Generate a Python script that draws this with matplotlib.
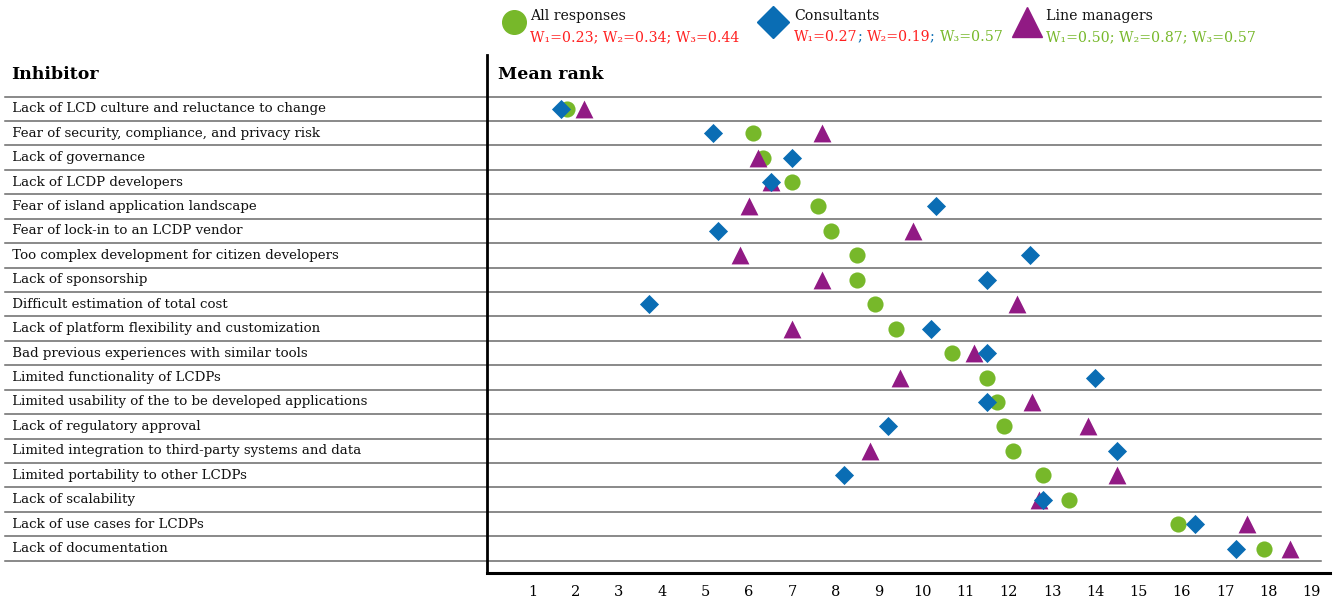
import matplotlib
matplotlib.use("Agg")
import matplotlib.pyplot as plt
import numpy as np

inhibitors = [
    "Lack of LCD culture and reluctance to change",
    "Fear of security, compliance, and privacy risk",
    "Lack of governance",
    "Lack of LCDP developers",
    "Fear of island application landscape",
    "Fear of lock-in to an LCDP vendor",
    "Too complex development for citizen developers",
    "Lack of sponsorship",
    "Difficult estimation of total cost",
    "Lack of platform flexibility and customization",
    "Bad previous experiences with similar tools",
    "Limited functionality of LCDPs",
    "Limited usability of the to be developed applications",
    "Lack of regulatory approval",
    "Limited integration to third-party systems and data",
    "Limited portability to other LCDPs",
    "Lack of scalability",
    "Lack of use cases for LCDPs",
    "Lack of documentation",
]
all_responses = [1.8, 6.1, 6.33, 7.0, 7.6, 7.9, 8.5, 8.5, 8.9, 9.4, 10.7, 11.5, 11.73, 11.9, 12.1, 12.8, 13.4, 15.9, 17.9]
consultants = [1.66, 5.17, 7.0, 6.51, 10.32, 5.29, 12.5, 11.5, 3.7, 10.2, 11.5, 14.0, 11.5, 9.2, 14.5, 8.2, 12.8, 16.3, 17.25]
line_managers = [2.19, 7.69, 6.21, 6.51, 6.0, 9.8, 5.8, 7.69, 12.2, 7.0, 11.2, 9.5, 12.54, 13.83, 8.8, 14.5, 12.7, 17.5, 18.5]
ticks = list(range(1, 20))

GREEN = "#77b82a"
BLUE = "#0a6db4"
PURPLE = "#911a84"
RED = "#ff2020"
SERIF = "DejaVu Serif"

W, H = 1334, 606
fig = plt.figure(figsize=(W / 100, H / 100), dpi=100)
ax = fig.add_axes([487 / W, 33 / H, 843 / W, 518 / H])
y = np.arange(len(inhibitors))

ax.set_xlim(-0.05, 19.42)
ax.set_ylim(19.0, -2.2)

# row separators run across the label column and the plot
for i in range(len(inhibitors) + 1):
    ax.axhline(i - 0.5, xmin=-0.572, xmax=0.989, color="#6a6a6a", lw=1.1,
               clip_on=False, zorder=1)

ax.scatter(all_responses, y, s=135, marker="o", color=GREEN, zorder=3, linewidths=0)
ax.scatter(consultants, y, s=95, marker="D", color=BLUE, zorder=4, linewidths=0)
ax.scatter(line_managers, y, s=165, marker="^", color=PURPLE, zorder=3, linewidths=0)

for i, name in enumerate(inhibitors):
    ax.text(-0.568, i, " " + name, transform=ax.get_yaxis_transform(), ha="left", va="center",
            fontsize=9.6, family=SERIF, color="#111111")

for side in ["top", "right"]:
    ax.spines[side].set_visible(False)
ax.spines["left"].set_linewidth(2)
ax.spines["bottom"].set_linewidth(2.2)
ax.set_yticks([])
ax.set_xticks(ticks)
ax.set_xticklabels([str(t) for t in ticks], family=SERIF, fontsize=10.5)
ax.tick_params(axis="x", length=0, pad=9)

ax.text(-0.565, -1.4, "Inhibitor", transform=ax.get_yaxis_transform(), fontsize=12.5,
        fontweight="bold", family=SERIF, va="center")
ax.text(0.013, -1.4, "Mean rank", transform=ax.get_yaxis_transform(), fontsize=12.5,
        fontweight="bold", family=SERIF, va="center")

# legend at the top, with weights coloured segment by segment
legend = [
    (514, 530, "o", GREEN, 17, "All responses", [("W₁=0.23; W₂=0.34; W₃=0.44", RED)]),
    (773, 794, "D", BLUE, 16, "Consultants",
     [("W₁=0.27", RED), ("; ", BLUE), ("W₂=0.19", RED), ("; ", BLUE), ("W₃=0.57", GREEN)]),
    (1027, 1046, "^", PURPLE, 21, "Line managers", [("W₁=0.50; W₂=0.87; W₃=0.57", GREEN)]),
]
for mx, tx, mk, col, ms, title, parts in legend:
    fig.add_artist(plt.Line2D([mx / W], [1 - 22 / H], marker=mk, color=col, markersize=ms,
                              linestyle="none", transform=fig.transFigure))
    fig.text(tx / W, 1 - 16 / H, title, family=SERIF, fontsize=10.2, va="center", ha="left",
             color="#111111")
    anchor = fig.text(tx / W, 1 - 37 / H, parts[0][0], family=SERIF, fontsize=10.2,
                      va="center", ha="left", color=parts[0][1])
    for txt, c in parts[1:]:
        anchor = ax.annotate(txt, xy=(1, 0), xycoords=anchor, xytext=(0, 0),
                             textcoords="offset points", family=SERIF, fontsize=10.2,
                             color=c, ha="left", va="bottom", annotation_clip=False)

fig.savefig("out.png", dpi=100)
